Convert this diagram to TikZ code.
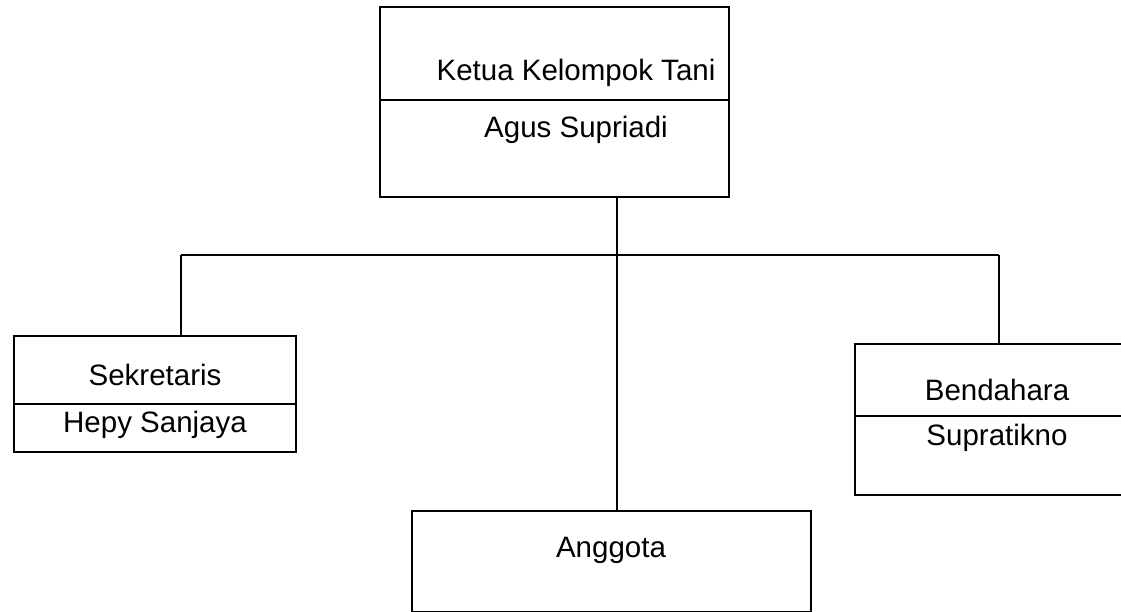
\documentclass[tikz,border=0pt]{standalone}
\usepackage{fontspec}
\setmainfont{Liberation Sans}
\begin{document}
\begin{tikzpicture}[x=1pt,y=-1pt,
  box/.style={draw=black,line width=1.6pt,minimum width=#1,inner sep=0pt,outer sep=0pt},
  lbl/.style={inner sep=0pt,font=\fontsize{29.5}{35}\selectfont},
  conn/.style={draw=black,line width=1.3pt},
  div/.style={draw=black,line width=1.1pt}]
\useasboundingbox (0,0) rectangle (1121,611);
\clip (0,0) rectangle (1121,611);
% boxes
\node[box=349pt,minimum height=190pt] (ketua) at (554.5,102) {};
\node[box=282pt,minimum height=116pt] (sek) at (155,394) {};
\node[box=284pt,minimum height=151pt] (ben) at (997,419.5) {};
\node[box=399pt,minimum height=100.5pt] (ang) at (611.5,561.25) {};
% dividers
\coordinate (kd) at (0,100);
\coordinate (sd) at (0,404);
\coordinate (bd) at (0,416);
\draw[div] (ketua.west |- kd) -- (ketua.east |- kd);
\draw[div] (sek.west |- sd) -- (sek.east |- sd);
\draw[div] (ben.west |- bd) -- (ben.east |- bd);
% texts
\node[lbl] (t1) at (576,73) {Ketua Kelompok Tani};
\node[lbl] (t2) at (576,130) {Agus Supriadi};
\node[lbl] (t3) at (155,375) {Sekretaris};
\node[lbl] (t4) at (155,425) {Hepy Sanjaya};
\node[lbl] (t5) at (997,390) {Bendahara};
\node[lbl] (t6) at (997,438) {Supratikno};
\node[lbl] (t7) at (611,550) {Anggota};
% connectors
\coordinate (jm) at (617,255);
\coordinate (jl) at (181,255);
\coordinate (jr) at (999,255);
\draw[conn] (ketua.south -| jm) -- (ang.north -| jm);
\draw[conn] (jl) -- (jr);
\draw[conn] (jl) -- (sek.north -| jl);
\draw[conn] (jr) -- (ben.north -| jr);
\end{tikzpicture}
\end{document}
